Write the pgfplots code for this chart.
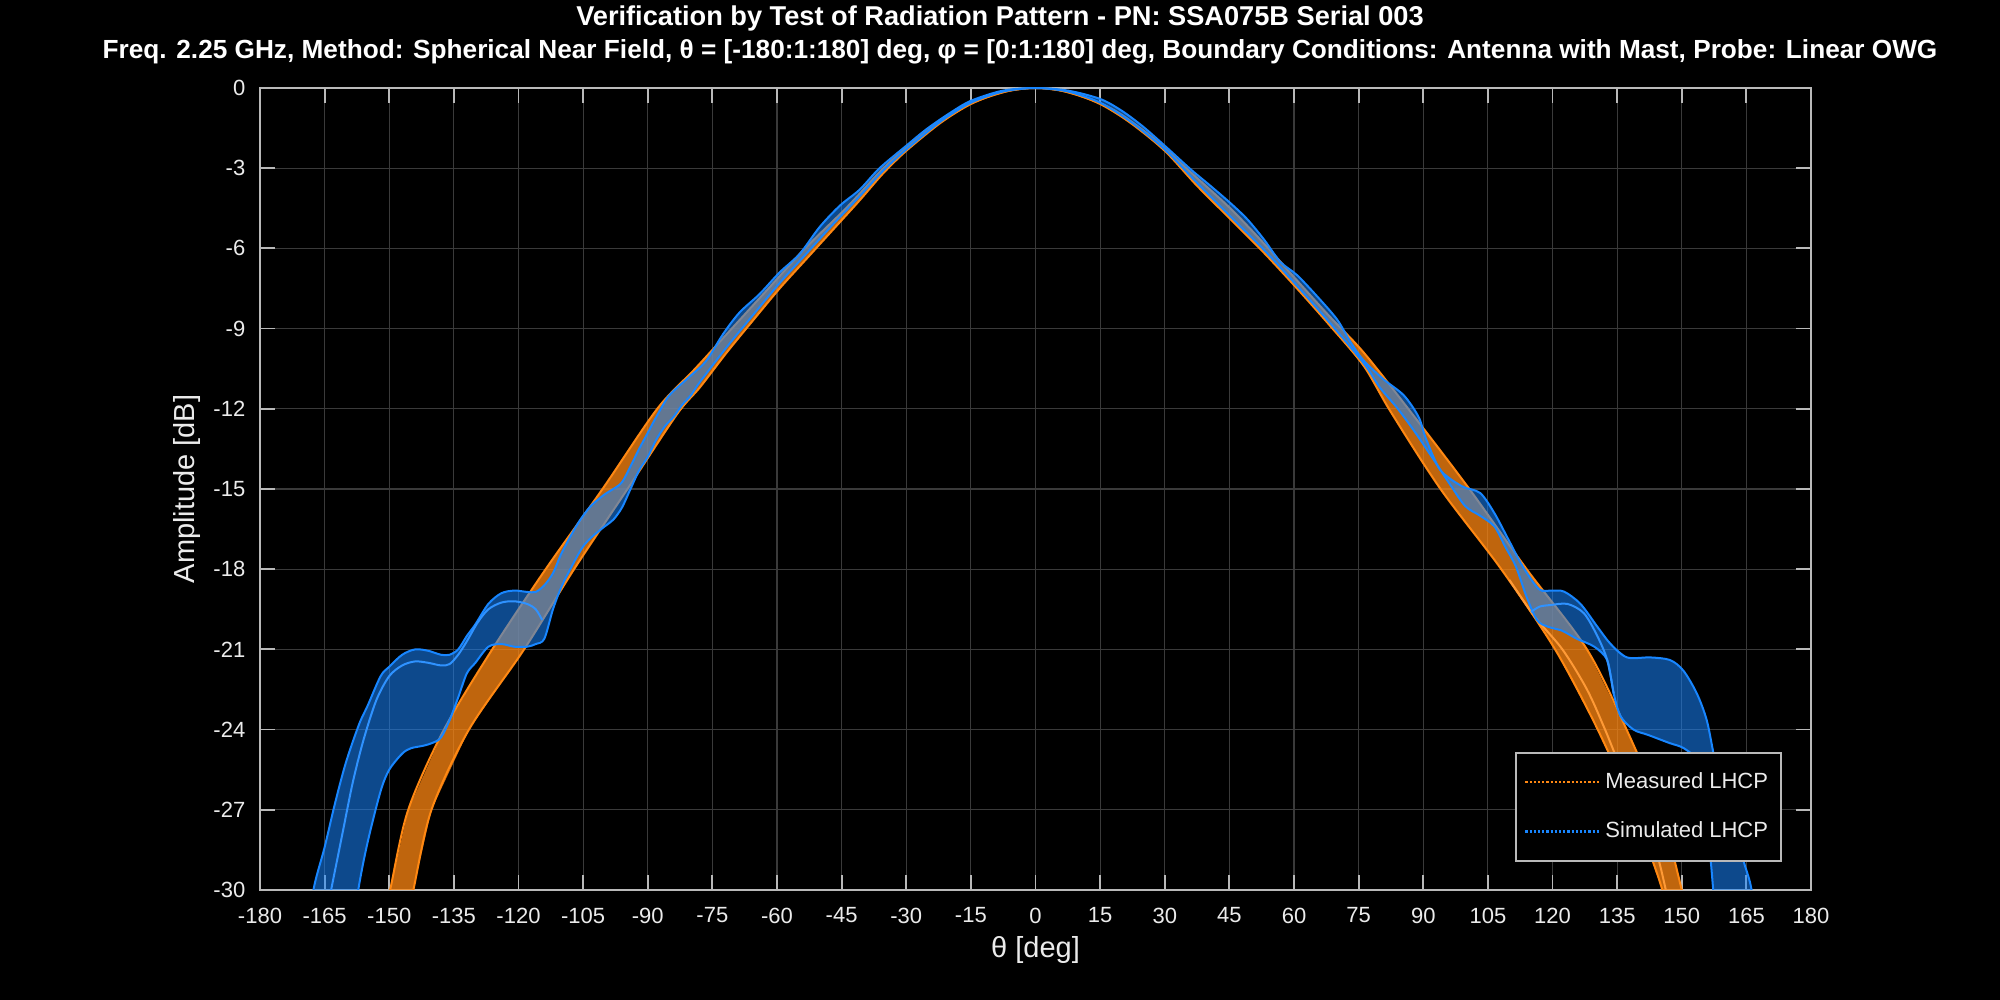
\documentclass[border=0pt]{standalone}
\usepackage{fontspec}
\setmainfont{Liberation Sans}
\usepackage{pgfplots}
\pgfplotsset{compat=1.18}
\definecolor{morange}{RGB}{255,136,18}
\definecolor{mblue}{RGB}{24,134,255}
\definecolor{axgray}{RGB}{185,185,185}
\definecolor{gridgray}{RGB}{58,58,58}
\definecolor{txtgray}{RGB}{235,235,235}
\begin{document}
\fontsize{11pt}{13pt}\selectfont
\begin{tikzpicture}
\useasboundingbox (-130pt,-55pt) rectangle (870pt,445pt);
\fill[black] (-130pt,-55pt) rectangle (870pt,445pt);
\begin{axis}[
  at={(0pt,0pt)}, anchor=south west,
  scale only axis, width=775.5pt, height=401pt,
  xmin=-180, xmax=180, ymin=-30, ymax=0,
  xtick={-180,-165,...,180}, ytick={-30,-27,...,0},
  grid=major, major grid style={gridgray, line width=0.6pt},
  axis line style={axgray, line width=0.9pt},
  tick style={axgray, line width=0.9pt},
  tick align=inside, major tick length=7.5pt,
  /pgf/number format/assume math mode=true,
  ticklabel style={text=txtgray, font=\fontsize{11}{13}\selectfont},
  xticklabel style={yshift=-5pt},
  yticklabel style={xshift=-3.5pt},
  xlabel={θ [deg]}, ylabel={Amplitude [dB]},
  label style={text=txtgray, font=\fontsize{14.5}{16}\selectfont},
  xlabel style={at={(axis description cs:0.5,-0.0748)}, anchor=center},
  ylabel style={at={(axis description cs:-0.04675,0.5)}, anchor=center},
  legend style={at={(axis description cs:0.9813,0.0349)}, anchor=south east,
    fill=black, draw=axgray, line width=0.9pt, text=txtgray,
    font=\fontsize{11}{13}\selectfont, inner xsep=4pt, inner ysep=7.5pt,
    row sep=10pt, nodes={inner sep=2.5pt}},
  legend cell align=left,
  legend image code/.code={\draw[#1, line width=1.1pt, densely dotted] (0pt,0pt) -- (37pt,0pt);},
]
% ---------------- Measured LHCP (orange band) ----------------
\addplot[forget plot, draw=none, fill=morange, fill opacity=0.75] coordinates {
(-152.5,-32) (-149.8,-30) (-145.6,-27) (-137.3,-24) (-126.1,-21) (-113.7,-18) (-100.5,-15)
(-87.8,-12) (-79,-10.5) (-70.5,-9) (-62,-7.5) (-53.5,-6) (-44,-4.5) (-35.3,-3) (-28.3,-2)
(-20,-1) (-14,-0.5) (-6,-0.1) (0,0) (6,-0.1) (14,-0.5) (20,-1) (28.3,-2) (35,-3)
(45.2,-4.5) (53.5,-5.9) (60.7,-7.2) (68,-8.5) (76.2,-9.9) (87,-12.1) (100.7,-15) (114,-18)
(128,-21) (137.2,-24) (145,-27) (150,-30) (152.5,-32)
(148,-32) (145.5,-30) (138.8,-27) (130.5,-24) (120.6,-21) (108.1,-18) (94,-15) (82.4,-12.1)
(76.2,-10.4) (68.4,-8.9) (60.7,-7.5) (53,-6.16) (45.2,-4.9) (37.5,-3.66) (30,-2.35) (22,-1.3)
(15,-0.6) (7.5,-0.15) (0,0) (-7.5,-0.15) (-15,-0.6) (-22,-1.3) (-30,-2.35) (-35.4,-3.2)
(-40.8,-4.2) (-47,-5.3) (-53.2,-6.4) (-59.4,-7.5) (-65.6,-8.7) (-71.7,-9.9) (-77.9,-11.2)
(-83.2,-12.2) (-94.7,-15) (-107.1,-18) (-118.7,-21) (-131.5,-24) (-140.2,-27) (-144.4,-30)
(-147,-32)} -- cycle;
\addplot[forget plot, morange, line width=1pt, smooth, tension=0.5] coordinates {
(-152.5,-32) (-149.8,-30) (-145.6,-27) (-137.3,-24) (-126.1,-21) (-113.7,-18) (-100.5,-15)
(-87.8,-12) (-79,-10.5) (-70.5,-9) (-62,-7.5) (-53.5,-6) (-44,-4.5) (-35.3,-3) (-28.3,-2)
(-20,-1) (-14,-0.5) (-6,-0.1) (0,0) (6,-0.1) (14,-0.5) (20,-1) (28.3,-2) (35,-3)
(45.2,-4.5) (53.5,-5.9) (60.7,-7.2) (68,-8.5) (76.2,-9.9) (87,-12.1) (100.7,-15) (114,-18)
(128,-21) (137.2,-24) (145,-27) (150,-30) (152.5,-32)};
\addplot[forget plot, morange, line width=1pt, smooth, tension=0.5] coordinates {
(-147,-32) (-144.4,-30) (-140.2,-27) (-131.5,-24) (-118.7,-21) (-107.1,-18) (-94.7,-15)
(-83.2,-12.2) (-77.9,-11.2) (-71.7,-9.9) (-65.6,-8.7) (-59.4,-7.5) (-53.2,-6.4) (-47,-5.3)
(-40.8,-4.2) (-35.4,-3.2) (-30,-2.35) (-22,-1.3) (-15,-0.6) (-7.5,-0.15) (0,0) (7.5,-0.15)
(15,-0.6) (22,-1.3) (30,-2.35) (37.5,-3.66) (45.2,-4.9) (53,-6.16) (60.7,-7.5) (68.4,-8.9)
(76.2,-10.4) (82.4,-12.1) (94,-15) (108.1,-18) (120.6,-21) (130.5,-24) (138.8,-27)
(145.5,-30) (148,-32)};
% inner bright cut inside the orange band (right side)
\addplot[forget plot, morange!85!white, line width=1pt, smooth, tension=0.5] coordinates {
(110,-18.4) (116,-19.8) (122.3,-21) (128,-22.5) (132.2,-24) (136,-25.5) (140.5,-27)
(144,-28.5) (146.3,-30) (147.5,-31)};
% ---------------- Simulated LHCP (blue band) ----------------
\addplot[forget plot, draw=none, fill=mblue, fill opacity=0.55] coordinates {
(-169,-32) (-167.6,-30) (-165,-28.4) (-162.5,-26.7) (-160,-25.2) (-157,-23.8) (-155,-23.1)
(-152,-22) (-150,-21.65) (-147,-21.2) (-144,-21.0) (-141,-21.05) (-138,-21.2) (-136,-21.2)
(-134,-21.0) (-132,-20.5) (-130,-20.06) (-127,-19.3) (-124,-18.9) (-121,-18.8) (-118,-18.85)
(-116,-18.85) (-114,-18.6) (-112,-18.15) (-110,-17.4) (-107,-16.5) (-105,-16.0) (-103,-15.6)
(-100,-15.2) (-98,-15.0) (-96,-14.75) (-94,-14.15) (-92,-13.5) (-90,-12.9) (-88,-12.3)
(-85,-11.5) (-80.3,-10.8) (-76.4,-10.2) (-72.5,-9.2) (-68.7,-8.4) (-64,-7.7) (-59.4,-6.9)
(-54.7,-6.2) (-50.1,-5.2) (-45.4,-4.4) (-40.8,-3.8) (-36.2,-3.0) (-30,-2.16) (-25.3,-1.54)
(-20,-0.95) (-15,-0.48) (-7.6,-0.1) (0,0) (7.6,-0.1) (15,-0.41) (20,-0.85) (25,-1.45)
(30,-2.16) (36,-3.04) (40.6,-3.66) (45.2,-4.3) (49.1,-4.9) (53,-5.66) (56.8,-6.5) (60.7,-7.0)
(65.4,-7.8) (70,-8.66) (73.1,-9.5) (76.2,-10.2) (80.8,-10.9) (85.5,-11.5) (88.9,-12.3)
(90.7,-13.15) (94,-14.3) (99,-14.9) (103.2,-15.15) (106.5,-15.9) (109.8,-16.9) (113.1,-17.9)
(116.9,-18.75) (119.8,-18.8) (122.7,-18.84) (126.5,-19.3) (130.4,-20.15) (133.5,-20.8)
(137.3,-21.3) (142.7,-21.3) (147.3,-21.4) (150.4,-21.8) (153.5,-22.65) (155.8,-23.65)
(157.5,-25) (159.5,-26.5) (162.1,-27.65) (164.5,-29) (166.2,-30) (167.5,-32)
(158,-31.5) (157.3,-30) (156.3,-28.2) (155,-26.8) (153.5,-25.2) (150.5,-24.7) (147.1,-24.5)
(142.2,-24.2) (138.8,-24.0) (135.8,-23.5) (134.2,-22.65) (132.7,-21.4) (129.7,-20.9)
(125.6,-20.6) (122.2,-20.3) (118.9,-20.15) (116.4,-19.9) (113.9,-19.0) (111.5,-17.9)
(109,-17.15) (106.5,-16.4) (103.2,-16.0) (99.8,-15.65) (96.5,-14.9) (92.4,-13.9) (88.2,-12.9)
(84.1,-12.0) (79.9,-11.2) (76.2,-10.3) (68.4,-8.8) (60.7,-7.4) (53,-6.05) (45.2,-4.8)
(37.5,-3.55) (30,-2.3) (22,-1.25) (15,-0.55) (7.5,-0.13) (0,0) (-7.5,-0.13) (-15,-0.55)
(-22,-1.25) (-30,-2.3) (-35.4,-3.1) (-40.8,-4.05) (-47,-5.1) (-53.2,-6.2) (-59.4,-7.3)
(-65.6,-8.5) (-71.7,-9.7) (-77.9,-11.0) (-80,-11.5) (-82,-11.85) (-84,-12.3) (-86,-12.65)
(-88,-13.15) (-90,-13.8) (-92,-14.3) (-94,-15.0) (-96,-15.7) (-98,-16.15) (-100,-16.4)
(-103,-16.8) (-105,-17.15) (-107,-17.7) (-110,-18.65) (-112,-19.5) (-114,-20.6) (-116,-20.8)
(-118,-20.9) (-121,-20.9) (-124,-20.8) (-127,-20.9) (-130,-21.5) (-132,-21.9) (-134,-22.8)
(-136,-23.65) (-138,-24.3) (-140,-24.5) (-142,-24.6) (-145,-24.7) (-147,-24.9) (-150,-25.5)
(-152,-26.3) (-155,-28.2) (-157.2,-30) (-160,-33)} -- cycle;
\addplot[forget plot, mblue, line width=1pt, smooth, tension=0.5] coordinates {
(-169,-32) (-167.6,-30) (-165,-28.4) (-162.5,-26.7) (-160,-25.2) (-157,-23.8) (-155,-23.1)
(-152,-22) (-150,-21.65) (-147,-21.2) (-144,-21.0) (-141,-21.05) (-138,-21.2) (-136,-21.2)
(-134,-21.0) (-132,-20.5) (-130,-20.06) (-127,-19.3) (-124,-18.9) (-121,-18.8) (-118,-18.85)
(-116,-18.85) (-114,-18.6) (-112,-18.15) (-110,-17.4) (-107,-16.5) (-105,-16.0) (-103,-15.6)
(-100,-15.2) (-98,-15.0) (-96,-14.75) (-94,-14.15) (-92,-13.5) (-90,-12.9) (-88,-12.3)
(-85,-11.5) (-80.3,-10.8) (-76.4,-10.2) (-72.5,-9.2) (-68.7,-8.4) (-64,-7.7) (-59.4,-6.9)
(-54.7,-6.2) (-50.1,-5.2) (-45.4,-4.4) (-40.8,-3.8) (-36.2,-3.0) (-30,-2.16) (-25.3,-1.54)
(-20,-0.95) (-15,-0.48) (-7.6,-0.1) (0,0) (7.6,-0.1) (15,-0.41) (20,-0.85) (25,-1.45)
(30,-2.16) (36,-3.04) (40.6,-3.66) (45.2,-4.3) (49.1,-4.9) (53,-5.66) (56.8,-6.5) (60.7,-7.0)
(65.4,-7.8) (70,-8.66) (73.1,-9.5) (76.2,-10.2) (80.8,-10.9) (85.5,-11.5) (88.9,-12.3)
(90.7,-13.15) (94,-14.3) (99,-14.9) (103.2,-15.15) (106.5,-15.9) (109.8,-16.9) (113.1,-17.9)
(116.9,-18.75) (119.8,-18.8) (122.7,-18.84) (126.5,-19.3) (130.4,-20.15) (133.5,-20.8)
(137.3,-21.3) (142.7,-21.3) (147.3,-21.4) (150.4,-21.8) (153.5,-22.65) (155.8,-23.65)
(157.5,-25) (159.5,-26.5) (162.1,-27.65) (164.5,-29) (166.2,-30) (167.5,-32)};
\addplot[forget plot, mblue, line width=1pt, smooth, tension=0.5] coordinates {
(-160,-33) (-157.2,-30) (-155,-28.2) (-152,-26.3) (-150,-25.5) (-147,-24.9) (-145,-24.7)
(-142,-24.6) (-140,-24.5) (-138,-24.3) (-136,-23.65) (-134,-22.8) (-132,-21.9) (-130,-21.5)
(-127,-20.9) (-124,-20.8) (-121,-20.9) (-118,-20.9) (-116,-20.8) (-114,-20.6) (-112,-19.5)
(-110,-18.65) (-107,-17.7) (-105,-17.15) (-103,-16.8) (-100,-16.4) (-98,-16.15) (-96,-15.7)
(-94,-15.0) (-92,-14.3) (-90,-13.8) (-88,-13.15) (-86,-12.65) (-84,-12.3) (-82,-11.85)
(-80,-11.5) (-77.9,-11.0) (-71.7,-9.7) (-65.6,-8.5) (-59.4,-7.3) (-53.2,-6.2) (-47,-5.1)
(-40.8,-4.05) (-35.4,-3.1) (-30,-2.3) (-22,-1.25) (-15,-0.55) (-7.5,-0.13) (0,0) (7.5,-0.13)
(15,-0.55) (22,-1.25) (30,-2.3) (37.5,-3.55) (45.2,-4.8) (53,-6.05) (60.7,-7.4) (68.4,-8.8)
(76.2,-10.3) (79.9,-11.2) (84.1,-12.0) (88.2,-12.9) (92.4,-13.9) (96.5,-14.9) (99.8,-15.65)
(103.2,-16.0) (106.5,-16.4) (109,-17.15) (111.5,-17.9) (113.9,-19.0) (116.4,-19.9)
(118.9,-20.15) (122.2,-20.3) (125.6,-20.6) (129.7,-20.9) (132.7,-21.4) (134.2,-22.65)
(135.8,-23.5) (138.8,-24.0) (142.2,-24.2) (147.1,-24.5) (150.5,-24.7) (153.5,-25.2)
(155,-26.8) (156.3,-28.2) (157.3,-30) (158,-31.5)};
% inner bright cuts inside the blue band
\addplot[forget plot, mblue!90!white, line width=1pt, smooth, tension=0.5] coordinates {
(-163.5,-30) (-161,-28) (-158.5,-26) (-156,-24.4) (-153,-22.9) (-150,-22.0) (-147,-21.6)
(-144,-21.45) (-141,-21.5) (-138,-21.6) (-136,-21.55) (-134,-21.2) (-132,-20.7) (-129.5,-20.0)
(-127,-19.5) (-124,-19.25) (-121,-19.2) (-118,-19.3) (-116,-19.5) (-114.5,-19.9)};
\addplot[forget plot, mblue!90!white, line width=1pt, smooth, tension=0.5] coordinates {
(115,-19.6) (117,-19.4) (119.6,-19.34) (123.5,-19.3) (127.3,-19.65) (130.4,-20.5)
(132.7,-21.4) (134.2,-22.65)};
% ---------------- legend ----------------
\addlegendimage{morange}
\addlegendentry{Measured LHCP}
\addlegendimage{mblue}
\addlegendentry{Simulated LHCP}
\end{axis}
\node[text=white, font=\bfseries\fontsize{13.6}{15}\selectfont] at (370pt,435.7pt) {Verification by Test of Radiation Pattern - PN: SSA075B Serial 003};
\node[text=white, font=\bfseries\fontsize{13.1}{15}\selectfont] at (380pt,419pt) {Freq. 2.25 GHz, Method: Spherical Near Field, θ = [-180:1:180] deg, φ = [0:1:180] deg, Boundary Conditions: Antenna with Mast, Probe: Linear OWG};
\end{tikzpicture}
\end{document}
